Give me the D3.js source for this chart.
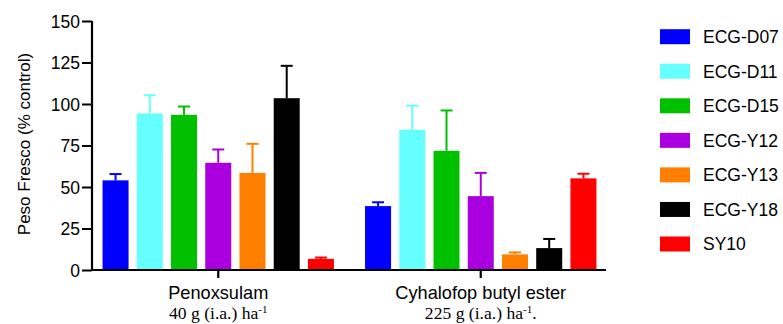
<!DOCTYPE html>
<html>
<head>
<meta charset="utf-8">
<script src="https://cdn.jsdelivr.net/npm/d3@7"></script>
<style>
  body { margin: 0; background: #fff; }
  text { font-family: "Liberation Sans", Arial, sans-serif; fill: #000; }
  .sub { font-family: "Liberation Serif", "Times New Roman", serif; }
</style>
</head>
<body>
<div id="chart"></div>
<script>
// data
var groups = ["Penoxsulam", "Cyhalofop butyl ester"];
var groupDoses = ["40 g (i.a.) ha", "225 g (i.a.) ha"];
var groupDoseTail = ["", "."];
var series = ["ECG-D07", "ECG-D11", "ECG-D15", "ECG-Y12", "ECG-Y13", "ECG-Y18", "SY10"];
var colors = ["#0000ff", "#66ffff", "#00c000", "#aa00e0", "#ff8000", "#000000", "#ff0000"];
var means = [
  [54, 94.3, 93.5, 64.6, 58.5, 103.5, 6.7],
  [38.5, 84.5, 71.8, 44.5, 9.4, 13.2, 55.2]
];
var errors = [
  [3.8, 11, 5, 8, 17.5, 19.5, 0.8],
  [2.3, 14.5, 24.3, 14, 1.2, 5.5, 2.8]
];
var yTicks = [0, 25, 50, 75, 100, 125, 150];

var svgWidth = 783, svgHeight = 324;
var svg = d3.select("#chart").append("svg")
  .attr("width", svgWidth)
  .attr("height", svgHeight);

// scales
var yScale = d3.scaleLinear().domain([0, 150]).range([270, 21]);
var xGroup = d3.scaleBand().domain(groups).range([87, 612]).padding(0);
var xInner = d3.scaleBand().domain(series).range([-115.7, 115.7]).paddingInner(0.24).paddingOuter(0);

// bars + error bars
groups.forEach(function(g, gi) {
  var cx = xGroup(g) + xGroup.bandwidth() / 2;
  var grp = svg.append("g").attr("transform", "translate(" + cx + ",0)");
  var rows = series.map(function(s, si) {
    return { s: s, v: means[gi][si], e: errors[gi][si], c: colors[si] };
  });
  var bw = xInner.bandwidth();

  grp.selectAll("line.err").data(rows).enter().append("line")
    .attr("class", "err")
    .attr("x1", d => xInner(d.s) + bw / 2)
    .attr("x2", d => xInner(d.s) + bw / 2)
    .attr("y1", d => yScale(d.v))
    .attr("y2", d => yScale(d.v + d.e))
    .attr("stroke", d => d.c)
    .attr("stroke-width", 2);

  grp.selectAll("line.cap").data(rows).enter().append("line")
    .attr("class", "cap")
    .attr("x1", d => xInner(d.s) + bw / 2 - 6)
    .attr("x2", d => xInner(d.s) + bw / 2 + 6)
    .attr("y1", d => yScale(d.v + d.e))
    .attr("y2", d => yScale(d.v + d.e))
    .attr("stroke", d => d.c)
    .attr("stroke-width", 2);

  grp.selectAll("rect").data(rows).enter().append("rect")
    .attr("x", d => xInner(d.s))
    .attr("width", bw)
    .attr("y", d => yScale(d.v))
    .attr("height", d => yScale(0) - yScale(d.v))
    .attr("fill", d => d.c);
});

// y axis
var yAxis = d3.axisLeft(yScale).tickValues(yTicks).tickSize(10).tickPadding(2);
var yg = svg.append("g").attr("transform", "translate(92,0)").call(yAxis);
yg.select(".domain").attr("stroke", "#000").attr("stroke-width", 2.2).attr("d", "M0,21V271");
yg.selectAll(".tick line").attr("stroke", "#000").attr("stroke-width", 2);
yg.selectAll(".tick text").style("font-size", "17.5px").attr("dy", "0.36em");

// x axis
var xAxis = d3.axisBottom(xGroup).tickSize(8).tickFormat("");
var xg = svg.append("g").attr("transform", "translate(0,270)").call(xAxis);
xg.select(".domain").attr("stroke", "#000").attr("stroke-width", 2.2).attr("d", "M91,0H606");
xg.selectAll(".tick line").attr("stroke", "#000").attr("stroke-width", 2.2);

groups.forEach(function(g, gi) {
  var cx = xGroup(g) + xGroup.bandwidth() / 2;
  svg.append("text")
    .attr("x", cx).attr("y", 299)
    .attr("text-anchor", "middle")
    .style("font-size", "18.2px")
    .text(g);
  var t = svg.append("text")
    .attr("class", "sub")
    .attr("x", cx).attr("y", 319)
    .attr("text-anchor", "middle")
    .style("font-size", "17.6px");
  t.append("tspan").text(groupDoses[gi]);
  t.append("tspan").attr("dy", -6).style("font-size", "11px").text("-1");
  t.append("tspan").attr("dy", 6).text(groupDoseTail[gi]);
});

// y title
svg.append("text")
  .attr("transform", "translate(30,144) rotate(-90)")
  .attr("text-anchor", "middle")
  .style("font-size", "17px")
  .text("Peso Fresco (% control)");

// legend
var legend = svg.append("g").attr("transform", "translate(660,0)");
var ly = d3.scalePoint().domain(series).range([36.7, 244]);
legend.selectAll("rect").data(series).enter().append("rect")
  .attr("x", 0).attr("y", d => ly(d) - 7.5)
  .attr("width", 30).attr("height", 15)
  .attr("fill", (d, i) => colors[i]);
legend.selectAll("text").data(series).enter().append("text")
  .attr("x", 43).attr("y", d => ly(d))
  .attr("dy", "0.36em")
  .style("font-size", "17.5px")
  .text(d => d);
</script>
</body>
</html>
